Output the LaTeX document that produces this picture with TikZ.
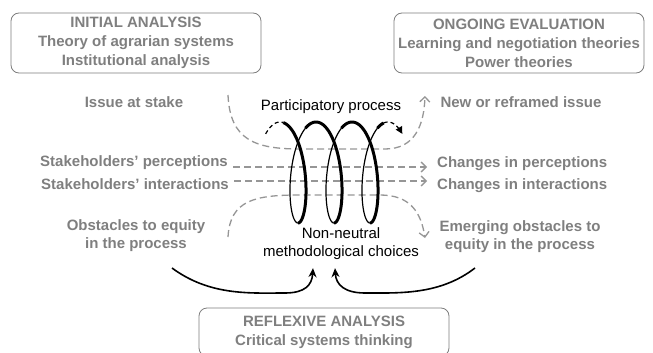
\documentclass[tikz,border=0pt]{standalone}
\usepackage{fontspec}
\setmainfont{Liberation Sans}
\usetikzlibrary{arrows.meta}
\definecolor{txtgray}{RGB}{127,127,127}
\definecolor{dashgray}{RGB}{150,150,150}
\definecolor{boxgray}{RGB}{125,125,125}
\tikzset{
	theory/.style={draw=boxgray, line width=0.8pt, rounded corners=8pt, minimum width=250pt, minimum height=60pt, align=center, text=txtgray, font=\bfseries\fontsize{15}{19}\selectfont},
	issue/.style={text=txtgray, inner sep=3pt, align=center, font=\bfseries\fontsize{15}{18}\selectfont},
	process/.style={text=black, inner sep=3pt, align=center, font=\fontsize{15}{18}\selectfont},
	flow/.style={draw=dashgray, line width=1.3pt, dash pattern=on 7pt off 4pt, -{Straight Barb[length=5pt,width=10pt]}},
	reflex/.style={draw=black, line width=1.6pt, -{Stealth[length=9pt,width=8pt]}},
	coil front/.style={line width=3pt, smooth, samples=40},
	coil back/.style={line width=1.2pt, smooth, samples=40},
	coil end/.style={line width=1.2pt, dash pattern=on 4pt off 3pt, smooth, samples=15},
	declare function={coilx(\t)=280+5.73*\t+16*sin(\t r); coily(\t)=172.5-50.5*cos(\t r);}
}
\begin{document}
\begin{tikzpicture}[x=1pt,y=-1pt]
	\path[use as bounding box] (0,0) rectangle (653,353);
	\clip (0,0) rectangle (653,353);
	% theory boxes
	\node[theory] (initial) at (136,43) {INITIAL ANALYSIS\\Theory of agrarian systems\\Institutional analysis};
	\node[theory] (ongoing) at (519,43) {ONGOING EVALUATION\\Learning and negotiation theories\\Power theories};
	\node[theory, minimum height=48pt] (reflexive) at (324,332) {REFLEXIVE ANALYSIS\\Critical systems thinking};
	
	% issues
	\node[issue] (issue) at (134,102) {Issue at stake};
	\node[issue] (newissue) at (521,102) {New or reframed issue};
	\node[issue, anchor=east] (percL) at (231,163) {Stakeholders’ perceptions};
	\node[issue, anchor=east] (interL) at (232,184) {Stakeholders’ interactions};
	\node[issue, anchor=west] (percR) at (434,164) {Changes in perceptions};
	\node[issue, anchor=west] (interR) at (434,186) {Changes in interactions};
	\node[issue] (obst) at (136,236) {Obstacles to equity\\in the process};
	\node[issue] (emerg) at (520,237) {Emerging obstacles to\\equity in the process};
	
	\node[process] (partic) at (331,107) {Participatory process};
	\node[process] (choices) at (341,244) {Non-neutral\\methodological choices};
	
	\coordinate (topin) at (228,95);
	\coordinate (topout) at (425,96);
	\coordinate (lowin) at (228,237);
	\coordinate (lowout) at (425,238);
	\coordinate (obstout) at (172,268);
	\coordinate (emergout) at (475,268);
	
	% dashed flows
	\draw[flow] (topin) .. controls (230,140) and (255,149) .. (300,149) -- (385,149) .. controls (415,149) and (424,125) .. (topout);
	\draw[flow, shorten <=2pt, shorten >=7pt] ([yshift=-4pt]percL.east) -- ([yshift=-4pt]percL.east -| percR.west);
	\draw[flow, shorten <=2pt, shorten >=7pt] ([yshift=3pt]interL.east) -- ([yshift=3pt]interL.east -| interR.west);
	\draw[flow] (lowin) .. controls (230,200) and (255,195) .. (300,195) -- (380,195) .. controls (410,195) and (421,212) .. (lowout);
	
	% coil
	\draw[coil end] plot[domain=-0.7:0.15] ({coilx(\x)},{coily(\x)});
	\foreach \n in {0,1,2}{
		\pgfmathsetmacro\ta{max(2*pi*\n-0.5,0.15)}
		\pgfmathsetmacro\tb{2*pi*\n+pi}
		\pgfmathsetmacro\tc{2*pi*\n+2*pi-0.5}
		\draw[coil back] plot[domain=\tb:\tc] ({coilx(\x)},{coily(\x)});
		\draw[coil front] plot[domain=\ta:\tb] ({coilx(\x)},{coily(\x)});
	}
	\draw[coil front] plot[domain=6*pi-0.5:6*pi-0.2] ({coilx(\x)},{coily(\x)});
	\draw[coil end, -{Triangle[length=7pt,width=7pt]}] plot[domain=6*pi-0.2:6*pi+0.7] ({coilx(\x)},{coily(\x)});
	
	% reflexive arrows
	\draw[reflex] (obstout) .. controls (210,296) and (250,293) .. (285,293) .. controls (305,293) and (312,285) .. ([xshift=-28pt,yshift=-5pt]choices.south);
	\draw[reflex] (emergout) .. controls (440,295) and (400,293) .. (365,293) .. controls (345,293) and (336,285) .. ([xshift=-6pt,yshift=-5pt]choices.south);
	
\end{tikzpicture}
\end{document}
